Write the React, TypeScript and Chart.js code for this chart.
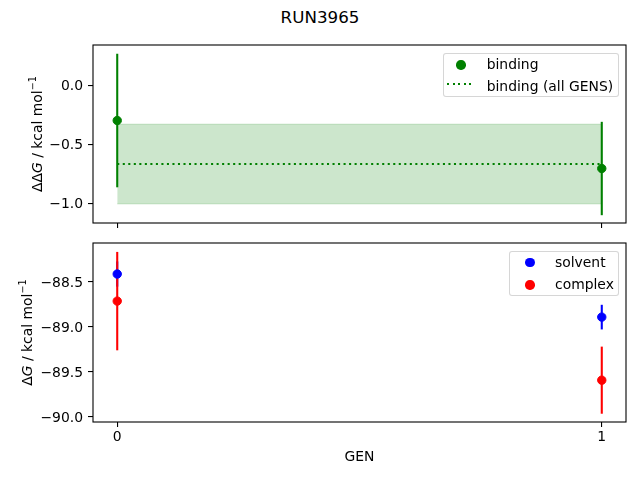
import { useEffect, useRef } from "react";
import { Chart, registerables } from "chart.js";

Chart.register(...registerables);

// GEN index on the shared x axis
const gens = [0, 1];
const genTicks = [0, 1];

// top panel: binding free energy per GEN
const binding = [-0.297, -0.703];
const bindingErr = [0.565, 0.395];
const allGensMean = -0.665;
const allGensErr = 0.337;
const topTicks = [-1.0, -0.5, 0.0];

// bottom panel: solvent / complex legs
const solvent = [-88.411, -88.89];
const solventErr = [0.14, 0.137];
const complexLeg = [-88.712, -89.591];
const complexErr = [0.547, 0.373];
const bottomTicks = [-90.0, -89.5, -89.0, -88.5];

const FONT = "DejaVu Sans";
const SIZE = 13.9;
const axisFont = { family: FONT, size: SIZE };

type Part = { text: string; italic?: boolean; sup?: boolean };

const topLabel: Part[] = [
  { text: "ΔΔ" },
  { text: "G", italic: true },
  { text: " / kcal mol" },
  { text: "−1", sup: true },
];
const bottomLabel: Part[] = [
  { text: "Δ" },
  { text: "G", italic: true },
  { text: " / kcal mol" },
  { text: "−1", sup: true },
];

const errorBars = {
  id: "errorBars",
  beforeDatasetsDraw(chart: any) {
    const { ctx } = chart;
    const x = chart.scales.x;
    const y = chart.scales.y;
    ctx.save();
    chart.data.datasets.forEach((ds: any) => {
      if (!ds.errors) return;
      ctx.strokeStyle = ds.borderColor;
      ctx.lineWidth = 2.08;
      ds.data.forEach((p: any, i: number) => {
        const px = x.getPixelForValue(p.x);
        ctx.beginPath();
        ctx.moveTo(px, y.getPixelForValue(p.y - ds.errors[i]));
        ctx.lineTo(px, y.getPixelForValue(p.y + ds.errors[i]));
        ctx.stroke();
      });
    });
    ctx.restore();
  },
};

const frame = {
  id: "frame",
  afterDatasetsDraw(chart: any) {
    const { ctx, chartArea: a } = chart;
    ctx.save();
    ctx.strokeStyle = "#000";
    ctx.lineWidth = 1.1;
    ctx.strokeRect(a.left, a.top, a.right - a.left, a.bottom - a.top);
    ctx.restore();
  },
};

// rotated y label with italic G and superscript
function yLabel(parts: Part[], x: number) {
  return {
    id: "yLabel",
    afterDraw(chart: any) {
      const { ctx, chartArea: a } = chart;
      const fontOf = (p: Part) =>
        `${p.italic ? "italic " : ""}${p.sup ? 9.7 : SIZE}px "${FONT}"`;
      ctx.save();
      let total = 0;
      parts.forEach((p) => {
        ctx.font = fontOf(p);
        total += ctx.measureText(p.text).width;
      });
      ctx.translate(x, (a.top + a.bottom) / 2);
      ctx.rotate(-Math.PI / 2);
      ctx.fillStyle = "#000";
      ctx.textAlign = "left";
      ctx.textBaseline = "alphabetic";
      let cx = -total / 2;
      parts.forEach((p) => {
        ctx.font = fontOf(p);
        ctx.fillText(p.text, cx, p.sup ? -5.5 : 0);
        cx += ctx.measureText(p.text).width;
      });
      ctx.restore();
    },
  };
}

const tickGrid = {
  drawOnChartArea: false,
  drawTicks: true,
  tickLength: 5,
  color: "#000",
  lineWidth: 1.1,
};

function xScale(showLabels: boolean, height: number): any {
  return {
    type: "linear",
    min: -0.05,
    max: 1.05,
    afterBuildTicks: (s: any) => {
      s.ticks = genTicks.map((v) => ({ value: v }));
    },
    afterFit: (s: any) => {
      s.height = height;
    },
    grid: tickGrid,
    border: { display: false },
    ticks: {
      display: showLabels,
      padding: 2,
      color: "#000",
      font: axisFont,
      maxRotation: 0,
      callback: (v: number) => String(v),
    },
    title: {
      display: showLabels,
      text: "GEN",
      color: "#000",
      font: axisFont,
      padding: { top: 0, bottom: 14.7 },
    },
  };
}

function yScale(min: number, max: number, ticks: number[]): any {
  return {
    type: "linear",
    min,
    max,
    afterBuildTicks: (s: any) => {
      s.ticks = ticks.map((v) => ({ value: v }));
    },
    afterFit: (s: any) => {
      s.width = 93;
    },
    grid: tickGrid,
    border: { display: false },
    ticks: {
      padding: 5,
      labelOffset: 1,
      color: "#000",
      font: axisFont,
      callback: (v: number) => v.toFixed(1).replace("-", "−"),
    },
  };
}

const pts = (ys: number[]) => gens.map((g, i) => ({ x: g, y: ys[i] }));

const pointStyle = (color: string) => ({
  showLine: false,
  borderColor: color,
  backgroundColor: color,
  pointRadius: 4.2,
  pointBorderWidth: 1,
  pointHoverRadius: 4.2,
});

const App = () => {
  const topRef = useRef<HTMLCanvasElement>(null);
  const bottomRef = useRef<HTMLCanvasElement>(null);

  useEffect(() => {
    if (!topRef.current || !bottomRef.current) return;

    const top = new Chart(topRef.current, {
      type: "scatter",
      data: {
        datasets: [
          {
            label: "binding",
            data: pts(binding),
            errors: bindingErr,
            order: 0,
            ...pointStyle("#008000"),
          } as any,
          {
            label: "band upper",
            type: "line",
            data: gens.map((g) => ({ x: g, y: allGensMean + allGensErr })),
            borderColor: "rgba(0,128,0,0.2)",
            backgroundColor: "rgba(0,128,0,0.2)",
            borderWidth: 1,
            pointRadius: 0,
            fill: "+1",
            order: 3,
          },
          {
            label: "band lower",
            type: "line",
            data: gens.map((g) => ({ x: g, y: allGensMean - allGensErr })),
            borderColor: "rgba(0,128,0,0.2)",
            borderWidth: 1,
            pointRadius: 0,
            fill: false,
            order: 2,
          },
          {
            label: "binding (all GENS)",
            type: "line",
            data: gens.map((g) => ({ x: g, y: allGensMean })),
            borderColor: "#008000",
            borderWidth: 2.08,
            borderDash: [2.08, 3.44],
            pointRadius: 0,
            fill: false,
            order: 1,
          },
        ],
      },
      options: {
        responsive: false,
        animation: false,
        layout: { padding: { top: 45, right: 14, left: 0, bottom: 0 } },
        plugins: { legend: { display: false }, tooltip: { enabled: false } },
        scales: {
          x: xScale(false, 17),
          y: yScale(-1.164, 0.342, topTicks),
        },
      },
      plugins: [errorBars, frame, yLabel(topLabel, 41.5)],
    });

    const bottom = new Chart(bottomRef.current, {
      type: "scatter",
      data: {
        datasets: [
          {
            label: "solvent",
            data: pts(solvent),
            errors: solventErr,
            order: 0,
            ...pointStyle("#0000ff"),
          } as any,
          {
            label: "complex",
            data: pts(complexLeg),
            errors: complexErr,
            order: 1,
            ...pointStyle("#ff0000"),
          } as any,
        ],
      },
      options: {
        responsive: false,
        animation: false,
        layout: { padding: { top: 18, right: 14, left: 0, bottom: 0 } },
        plugins: { legend: { display: false }, tooltip: { enabled: false } },
        scales: {
          x: xScale(true, 58),
          y: yScale(-90.056, -88.066, bottomTicks),
        },
      },
      plugins: [errorBars, frame, yLabel(bottomLabel, 31.5)],
    });

    return () => {
      top.destroy();
      bottom.destroy();
    };
  }, []);

  const legendBox = (left: number, top: number, width: number, height: number) => ({
    position: "absolute" as const,
    left,
    top,
    width,
    height,
    boxSizing: "border-box" as const,
    border: "1px solid rgba(204,204,204,0.8)",
    borderRadius: 3,
    background: "rgba(255,255,255,0.8)",
  });
  const dot = (cx: number, cy: number, color: string) => (
    <span
      style={{
        position: "absolute",
        left: cx - 4.7,
        top: cy - 4.7,
        width: 9.4,
        height: 9.4,
        borderRadius: "50%",
        background: color,
      }}
    />
  );
  const text = (left: number, baseline: number, s: string) => (
    <span
      style={{
        position: "absolute",
        left,
        top: baseline - 12.8,
        lineHeight: "16px",
        whiteSpace: "nowrap",
      }}
    >
      {s}
    </span>
  );

  return (
    <div
      style={{
        position: "fixed",
        left: 0,
        top: 0,
        width: 640,
        height: 480,
        background: "#fff",
        fontFamily: FONT,
        fontSize: SIZE,
        color: "#000",
        overflow: "hidden",
      }}
    >
      <div
        style={{
          position: "absolute",
          left: 0,
          top: 7.5,
          width: 640,
          textAlign: "center",
          fontSize: 16.7,
          lineHeight: "18px",
        }}
      >
        RUN3965
      </div>
      <canvas
        ref={topRef}
        width={640}
        height={240}
        style={{ position: "absolute", left: 0, top: 0 }}
      />
      <canvas
        ref={bottomRef}
        width={640}
        height={255}
        style={{ position: "absolute", left: 0, top: 225 }}
      />
      <div style={legendBox(442.5, 52.5, 176, 44.5)} />
      {dot(461, 65, "#008000")}
      <span
        style={{
          position: "absolute",
          left: 446.5,
          top: 82.7,
          width: 28,
          height: 2.08,
          background:
            "repeating-linear-gradient(90deg, #008000 0 2.08px, transparent 2.08px 5.52px)",
        }}
      />
      {text(486.7, 69, "binding")}
      {text(486.7, 90.3, "binding (all GENS)")}
      <div style={legendBox(509, 250.5, 109.5, 45)} />
      {dot(530, 262.7, "#0000ff")}
      {dot(530, 285, "#ff0000")}
      {text(555, 266.8, "solvent")}
      {text(555, 288.5, "complex")}
    </div>
  );
};

export default App;
